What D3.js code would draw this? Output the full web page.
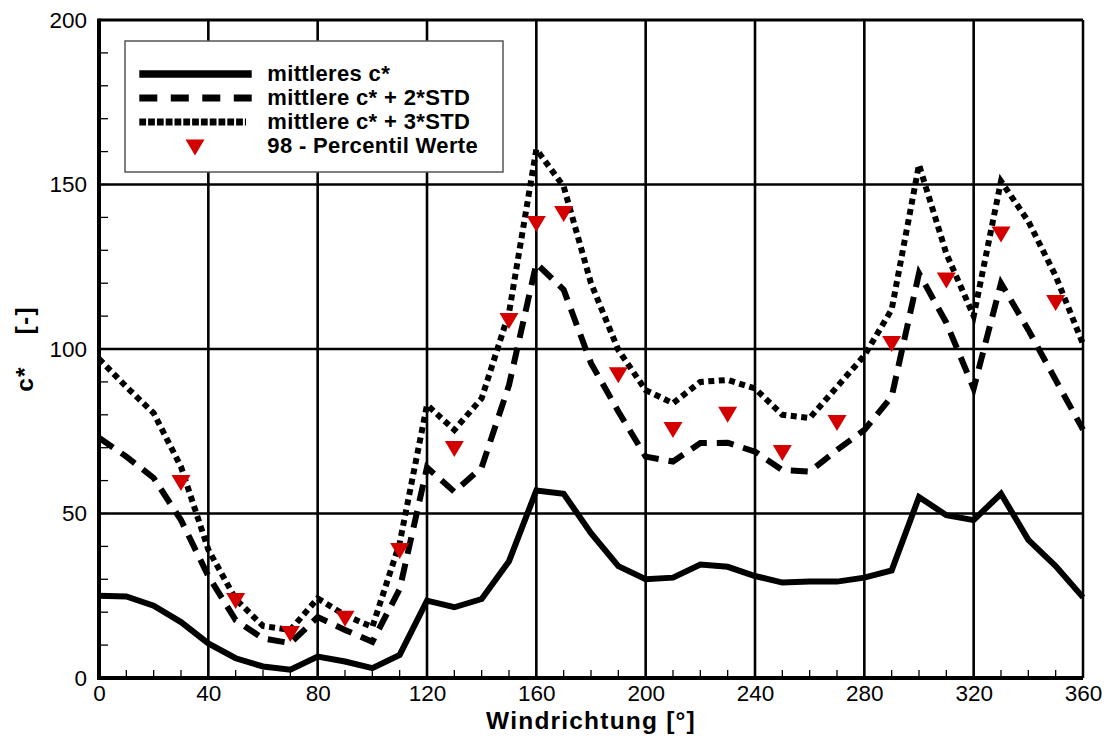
<!DOCTYPE html>
<html>
<head>
<meta charset="utf-8">
<script src="https://cdn.jsdelivr.net/npm/d3@7"></script>
<style>
  body { margin: 0; background: #fff; }
  svg { display: block; font-family: "Liberation Sans", Arial, sans-serif; }
</style>
</head>
<body>
<div id="chart"></div>
<script>
// wind direction (deg) for the three curves
const angles = [0, 10, 20, 30, 40, 50, 60, 70, 80, 90, 100, 110, 120, 130, 140, 150, 160, 170, 180,
	190, 200, 210, 220, 230, 240, 250, 260, 270, 280, 290, 300, 310, 320, 330, 340, 350, 360];
const meanC = [25, 24.8, 22, 17, 10.5, 6, 3.5, 2.5, 6.5, 5, 3, 7, 23.5, 21.5, 24, 35.5, 57, 56, 44,
	34, 30, 30.5, 34.5, 33.8, 31, 29, 29.3, 29.3, 30.5, 32.7, 55, 49.5, 48, 56, 42, 34, 24.5];
const meanPlus2 = [73, 67.3, 60.8, 48, 31, 17.6, 12, 10.6, 18.5, 14.6, 11, 27, 64, 56.6, 64, 89, 126, 118, 95.7,
	81, 67.3, 65.8, 71.4, 71.5, 68.8, 63.2, 62.7, 69.3, 75.4, 85.5, 123, 108, 88, 120, 105.8, 90.6, 75.5];
const meanPlus3 = [97, 88.5, 80.5, 64.2, 39, 24, 15.8, 14.6, 24.2, 19.1, 15.5, 41, 83, 75.4, 85, 111, 160.7, 149.4, 120,
	99.7, 87.5, 83.5, 90, 90.6, 88, 80, 79, 88.5, 98, 112, 156, 129, 110, 151, 138.8, 122.2, 101.5];
// 98 percentile points
const pctAngles = [30, 50, 70, 90, 110, 130, 150, 160, 170, 190, 210, 230, 250, 270, 290, 310, 330, 350];
const pctValues = [59.3, 23.4, 13.4, 18, 38.6, 69.6, 108.5, 138, 141, 92, 75.4, 80, 68.4, 77.5, 101.5, 120.8, 134.8, 114];

const xTicks = [0, 40, 80, 120, 160, 200, 240, 280, 320, 360];
const yTicks = [0, 50, 100, 150, 200];
const legendLabels = ["mittleres c*", "mittlere c* + 2*STD", "mittlere c* + 3*STD", "98 - Percentil Werte"];

const outerwidth = 1109, outerheight = 738;
const marginLeft = 99, marginTop = 20;
const width = 984, height = 658;

const svg = d3.select("#chart").append("svg")
	.attr("width", outerwidth)
	.attr("height", outerheight);

const xscale = d3.scaleLinear().domain([0, 360]).range([0, width]);
const yscale = d3.scaleLinear().domain([0, 200]).range([height, 0]);

const plot = svg.append("g").attr("transform", "translate(" + marginLeft + "," + marginTop + ")");

// grid
plot.append("g")
	.selectAll("line").data(xTicks.slice(1, -1)).join("line")
	.attr("x1", d => xscale(d)).attr("x2", d => xscale(d))
	.attr("y1", 0).attr("y2", height)
	.attr("stroke", "#000").attr("stroke-width", 2.6);
plot.append("g")
	.selectAll("line").data(yTicks.slice(1, -1)).join("line")
	.attr("y1", d => yscale(d)).attr("y2", d => yscale(d))
	.attr("x1", 0).attr("x2", width)
	.attr("stroke", "#000").attr("stroke-width", 2.6);

// minor ticks, pointing inward
plot.append("g")
	.selectAll("line").data(d3.range(0, 361, 10)).join("line")
	.attr("x1", d => xscale(d)).attr("x2", d => xscale(d))
	.attr("y1", height).attr("y2", height - 8)
	.attr("stroke", "#000").attr("stroke-width", 1.3);
plot.append("g")
	.selectAll("line").data(d3.range(0, 201, 10)).join("line")
	.attr("y1", d => yscale(d)).attr("y2", d => yscale(d))
	.attr("x1", 0).attr("x2", 9)
	.attr("stroke", "#000").attr("stroke-width", 1.3);

// frame
plot.append("line").attr("x1", 0).attr("x2", width).attr("y1", 0).attr("y2", 0)
	.attr("stroke", "#000").attr("stroke-width", 3);
plot.append("line").attr("x1", width).attr("x2", width).attr("y1", 0).attr("y2", height)
	.attr("stroke", "#000").attr("stroke-width", 2.5);
plot.append("line").attr("x1", 0).attr("x2", width).attr("y1", height).attr("y2", height)
	.attr("stroke", "#000").attr("stroke-width", 4);
plot.append("line").attr("x1", 0).attr("x2", 0).attr("y1", -1.5).attr("y2", height + 2)
	.attr("stroke", "#000").attr("stroke-width", 4);

// tick labels
const xaxis = d3.axisBottom(xscale).tickValues(xTicks).tickSize(0).tickPadding(7);
const yaxis = d3.axisLeft(yscale).tickValues(yTicks).tickSize(0).tickPadding(12);
plot.append("g").attr("transform", "translate(0," + height + ")").call(xaxis)
	.call(g => g.select(".domain").remove())
	.call(g => g.selectAll("text").attr("font-size", 22.5).attr("fill", "#000")
		.attr("font-family", "Liberation Sans, Arial, sans-serif"));
plot.append("g").call(yaxis)
	.call(g => g.select(".domain").remove())
	.call(g => g.selectAll("text").attr("font-size", 22.5).attr("fill", "#000")
		.attr("font-family", "Liberation Sans, Arial, sans-serif"));

// axis titles
svg.append("text")
	.attr("x", marginLeft + width / 2).attr("y", 729)
	.attr("text-anchor", "middle").attr("font-size", 24.5).attr("font-weight", "bold")
	.attr("letter-spacing", 1.2)
	.text("Windrichtung [°]");
svg.append("text")
	.attr("transform", "translate(33," + (marginTop + height / 2) + ") rotate(-90)")
	.attr("text-anchor", "middle").attr("font-size", 24.5).attr("font-weight", "bold")
	.attr("letter-spacing", 1.2)
	.attr("xml:space", "preserve").style("white-space", "pre")
	.text("c*    [-]");

// curves
const line = d3.line().x((d, i) => xscale(angles[i])).y(d => yscale(d));
const curves = [
	{ data: meanC, dash: null, w: 6 },
	{ data: meanPlus2, dash: "17,10", w: 6 },
	{ data: meanPlus3, dash: "6,4.5", w: 6 }
];
plot.append("g").selectAll("path").data(curves).join("path")
	.attr("d", d => line(d.data))
	.attr("fill", "none").attr("stroke", "#000")
	.attr("stroke-width", d => d.w)
	.attr("stroke-dasharray", d => d.dash)
	.attr("stroke-linejoin", "miter");

// percentile markers: downward triangle centred on its bounding box
const downTriangle = {
	draw(context, size) {
		const w = Math.sqrt(size * 2 / 0.84), h = 0.84 * w;
		context.moveTo(-w / 2, -h / 2);
		context.lineTo(w / 2, -h / 2);
		context.lineTo(0, h / 2);
		context.closePath();
	}
};
const tri = d3.symbol().type(downTriangle).size(152);
plot.append("g").selectAll("path").data(pctAngles).join("path")
	.attr("d", tri)
	.attr("transform", (d, i) => "translate(" + xscale(d) + "," + yscale(pctValues[i]) + ")")
	.attr("fill", "#d40000");

// legend
const legend = svg.append("g");
legend.append("rect")
	.attr("x", 125).attr("y", 41).attr("width", 378).attr("height", 131)
	.attr("fill", "#fff").attr("stroke", "#555").attr("stroke-width", 1.5);
const rowY = [74, 98, 122, 147.5];
const textY = [81, 105, 129, 153.3];
const legendDash = [null, "18,13.5", "6.8,2"];
legendDash.forEach((dash, i) => {
	legend.append("line")
		.attr("x1", 139.3).attr("x2", i == 2 ? 246 : 251.7).attr("y1", rowY[i]).attr("y2", rowY[i])
		.attr("stroke", "#000").attr("stroke-width", i == 0 ? 7.5 : 6.8)
		.attr("stroke-dasharray", dash);
});
legend.append("path")
	.attr("d", tri)
	.attr("transform", "translate(195," + rowY[3] + ")")
	.attr("fill", "#d40000");
legend.selectAll("text.lab").data(legendLabels).join("text")
	.attr("class", "lab")
	.attr("x", 267.3).attr("y", (d, i) => textY[i])
	.attr("font-size", 22).attr("font-weight", "bold")
	.attr("letter-spacing", 0.35)
	.text(d => d);
</script>
</body>
</html>
